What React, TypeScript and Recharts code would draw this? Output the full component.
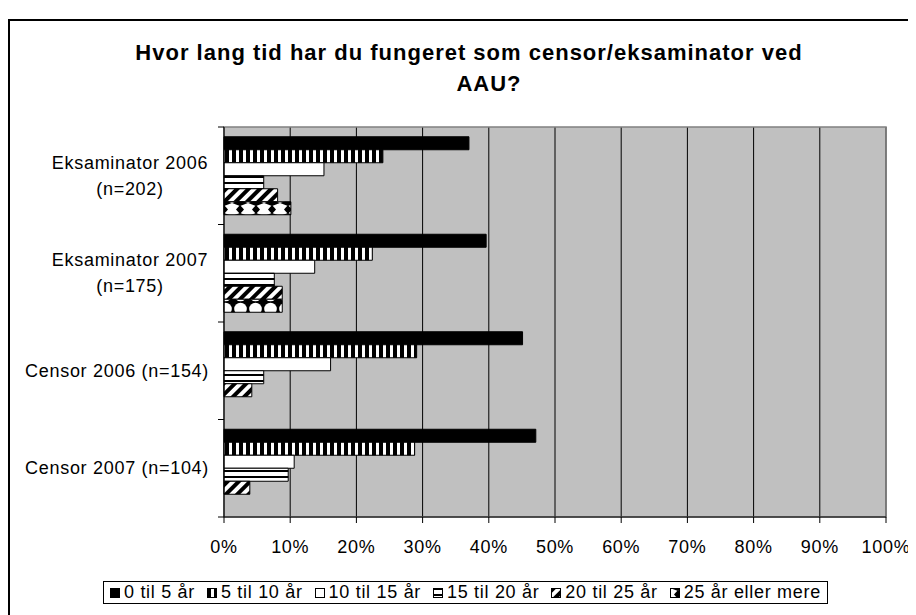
import React from "react";
import {
  BarChart,
  Bar,
  XAxis,
  YAxis,
  CartesianGrid,
  ReferenceArea,
  Cell,
} from "recharts";

const categories = [
  "Eksaminator 2006\n(n=202)",
  "Eksaminator 2007\n(n=175)",
  "Censor 2006 (n=154)",
  "Censor 2007 (n=104)",
];
const seriesNames = [
  "0 til 5 år",
  "5 til 10 år",
  "10 til 15 år",
  "15 til 20 år",
  "20 til 25 år",
  "25 år eller mere",
];
const v0to5 = [37.0, 39.6, 45.1, 47.1];
const v5to10 = [24.0, 22.4, 29.1, 28.8];
const v10to15 = [15.1, 13.7, 16.1, 10.6];
const v15to20 = [6.0, 7.6, 6.0, 9.7];
const v20to25 = [8.1, 8.8, 4.2, 3.9];
const v25plus = [10.1, 8.8, 0, 0];
const xTicks = [0, 10, 20, 30, 40, 50, 60, 70, 80, 90, 100];

const seriesValues = [v0to5, v5to10, v10to15, v15to20, v20to25, v25plus];
const seriesKeys = ["s0", "s1", "s2", "s3", "s4", "s5"];
const seriesFills = [
  "#000000",
  "url(#pVert)",
  "#ffffff",
  "url(#pHoriz)",
  "url(#pDiag)",
  "url(#pDiamond)",
];
const lastSeriesCellFills = ["url(#pDiamond)", "url(#pCircle)", "url(#pDiamond)", "url(#pDiamond)"];

const data = categories.map((name, i) => {
  const row: Record<string, any> = { name };
  seriesKeys.forEach((k, j) => {
    row[k] = seriesValues[j][i];
  });
  return row;
});

const FONT = "'Liberation Sans', Arial, Helvetica, sans-serif";
const LS = 0.7;
const W = 908;
const H = 607;
const M = { top: 119, right: 30, bottom: 58, left: 0 };
const Y_W = 216;
const X_H = 40;
const PLOT_H = H - M.top - M.bottom - X_H;
const BAND = PLOT_H / categories.length;

const CatTick = (props: any) => {
  const { y, payload, index } = props;
  const axisX = M.left + Y_W;
  const lines = String(payload.value).split("\n");
  return (
    <g>
      <line x1={axisX - 6} x2={axisX} y1={y - BAND / 2} y2={y - BAND / 2} stroke="#000" />
      {index === categories.length - 1 && (
        <line x1={axisX - 6} x2={axisX} y1={y + BAND / 2} y2={y + BAND / 2} stroke="#000" />
      )}
      {lines.length === 1 ? (
        <text x={axisX - 15} y={y} textAnchor="end" dominantBaseline="central" fontSize={18} fontFamily={FONT} letterSpacing={LS} fill="#000">
          {lines[0]}
        </text>
      ) : (
        lines.map((ln, i) => (
          <text
            key={i}
            x={axisX - 94}
            y={y + (i - (lines.length - 1) / 2) * 26}
            textAnchor="middle"
            dominantBaseline="central"
            fontSize={18}
            fontFamily={FONT}
            letterSpacing={LS}
            fill="#000"
          >
            {ln}
          </text>
        ))
      )}
    </g>
  );
};

const Patterns = () => (
  <svg width={0} height={0} style={{ position: "absolute" }}>
    <defs>
      <pattern id="pVert" patternUnits="userSpaceOnUse" width={7} height={7}>
        <rect width={7} height={7} fill="#fff" />
        <rect width={4} height={7} fill="#000" />
      </pattern>
      <pattern id="pHoriz" patternUnits="userSpaceOnUse" width={6} height={6}>
        <rect width={6} height={6} fill="#fff" />
        <rect width={6} height={2} fill="#000" />
      </pattern>
      <pattern id="pDiag" patternUnits="userSpaceOnUse" width={8} height={8} patternTransform="rotate(45)">
        <rect width={8} height={8} fill="#fff" />
        <rect width={4} height={8} fill="#000" />
      </pattern>
      <pattern id="pDiamond" patternUnits="userSpaceOnUse" width={16} height={13}>
        <rect width={16} height={13} fill="#fff" />
        <polygon points="8,2 12,6.5 8,11 4,6.5" fill="#000" />
        <polygon points="0,0 16,0 8,3" fill="#000" />
        <polygon points="0,13 16,13 8,10" fill="#000" />
      </pattern>
      <pattern id="pCircle" patternUnits="userSpaceOnUse" width={15} height={14}>
        <rect width={15} height={14} fill="#000" />
        <circle cx={7.5} cy={7} r={6.3} fill="#fff" />
      </pattern>
    </defs>
  </svg>
);

const LegendBox = () => (
  <div
    style={{
      position: "absolute",
      left: 95,
      top: 573,
      width: 725,
      height: 23,
      boxSizing: "border-box",
      border: "1px solid #000",
      background: "#fff",
      display: "flex",
      alignItems: "center",
      justifyContent: "space-between",
      padding: "0 6px",
      fontFamily: FONT,
      fontSize: 18,
      letterSpacing: LS,
      color: "#000",
      whiteSpace: "nowrap",
    }}
  >
    {seriesNames.map((n, i) => (
      <span key={n} style={{ display: "inline-flex", alignItems: "center" }}>
        <svg width={10} height={10} style={{ marginRight: 4 }}>
          <rect x={0.5} y={0.5} width={9} height={9} fill={seriesFills[i]} stroke="#000" />
        </svg>
        {n}
      </span>
    ))}
  </div>
);

export default function App() {
  return (
    <div style={{ position: "relative", width: W, height: H, overflow: "hidden", background: "#fff" }}>
      <style>{`html,body{overflow:hidden;}`}</style>
      <Patterns />
      <div
        style={{
          position: "absolute",
          left: 0,
          top: 11,
          width: W + 20,
          height: H + 20,
          border: "2px solid #000",
          boxSizing: "border-box",
        }}
      />
      <svg width={W} height={110} style={{ position: "absolute", left: 0, top: 0 }}>
        <text x={461} y={52} textAnchor="middle" fontFamily={FONT} fontWeight="bold" fontSize={22} letterSpacing={1} fill="#000">
          Hvor lang tid har du fungeret som censor/eksaminator ved
        </text>
        <text x={481} y={83} textAnchor="middle" fontFamily={FONT} fontWeight="bold" fontSize={22} letterSpacing={1} fill="#000">
          AAU?
        </text>
      </svg>
      <div style={{ position: "absolute", left: 0, top: 0 }}>
        <BarChart
          width={W}
          height={H}
          data={data}
          layout="vertical"
          margin={M}
          barCategoryGap="10%"
          barGap={0}
        >
          <CartesianGrid horizontal={false} vertical stroke="#000" fill="#C0C0C0" fillOpacity={1} />
          <ReferenceArea x1={0} x2={100} stroke="#808080" strokeWidth={1.5} fill="none" fillOpacity={0} ifOverflow="visible" />
          <XAxis
            type="number"
            domain={[0, 100]}
            ticks={xTicks}
            tickFormatter={(v: number) => `${v}%`}
            height={X_H}
            tickSize={6}
            tickMargin={17}
            axisLine={{ stroke: "#000" }}
            tickLine={{ stroke: "#000" }}
            tick={{ fill: "#000", fontSize: 18, fontFamily: FONT, letterSpacing: LS }}
            interval={0}
          />
          <YAxis
            type="category"
            dataKey="name"
            width={Y_W}
            axisLine={{ stroke: "#000" }}
            tickLine={false}
            tick={<CatTick />}
            interval={0}
          />
          {seriesKeys.map((k, j) => (
            <Bar
              key={k}
              dataKey={k}
              name={seriesNames[j]}
              fill={seriesFills[j]}
              stroke="#000"
              strokeWidth={1}
              isAnimationActive={false}
            >
              {j === seriesKeys.length - 1 &&
                categories.map((c, i) => <Cell key={c} fill={lastSeriesCellFills[i]} />)}
            </Bar>
          ))}
        </BarChart>
      </div>
      <LegendBox />
    </div>
  );
}
